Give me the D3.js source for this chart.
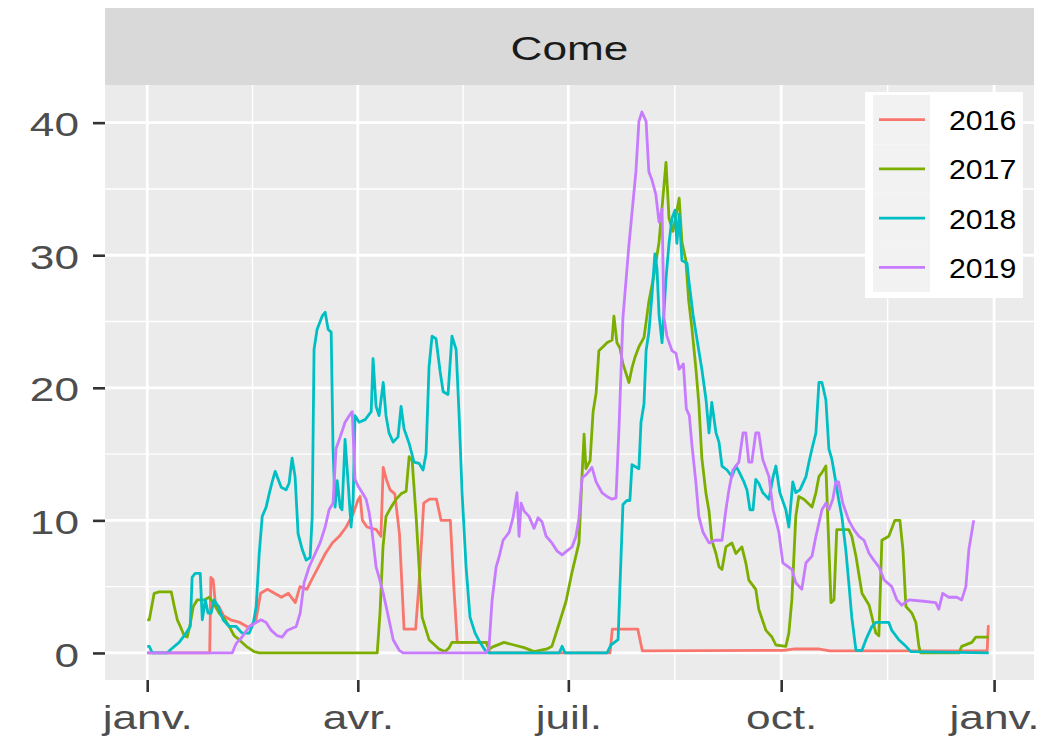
<!DOCTYPE html>
<html><head><meta charset="utf-8">
<script src="https://cdn.jsdelivr.net/npm/d3@7"></script>
<style>
body{margin:0;background:#fff;}
svg{display:block;}
text{font-family:"Liberation Sans",Arial,Helvetica,sans-serif;}
</style>
</head><body>
<svg id="chart" width="1064" height="741"></svg>
<script>
// ---------------- data ----------------
const facetTitle = "Come";
const years = ["2016", "2017", "2018", "2019"];
const colors = ["#F8766D", "#7CAE00", "#00BFC4", "#C77CFF"];
const yTicks = [0, 10, 20, 30, 40];
const yMinorTicks = [5, 15, 25, 35];
const xTickDates = ["2016-01-01", "2016-04-01", "2016-07-01", "2016-10-01", "2017-01-01"];
const xTickLabels = ["janv.", "avr.", "juil.", "oct.", "janv."];
const baseYear = 2016;

// [day of year, value]
const s2016 = [[0,0],[27,0],[27.5,5.7],[28.5,5.5],[29.5,3.6],[31,3.5],[33,2.8],[36,2.5],[40,2.3],[44,1.9],[47,2.5],[49,4.5],[52,4.8],[55,4.5],[58,4.2],[61,4.5],[64,3.8],[66,5],[69,4.8],[71,5.5],[74,6.5],[77,7.5],[80,8.3],[83,8.8],[86,9.5],[89,10.5],[91,11.5],[92,11.8],[93,10],[95,9.5],[99,9.3],[101,8.8],[102,14],[103.5,13],[105,12.3],[107,12],[109,9],[111,1.8],[116,1.8],[117.5,5.3],[119.5,11.3],[122,11.6],[125,11.6],[127,10],[131,10],[132.5,5],[134,0.8],[147,0.8],[148,0],[200,0],[201,1.8],[212,1.8],[214,0.15],[275,0.2],[280,0.3],[290,0.3],[295,0.15],[363,0.15],[363.5,2],[364,2]];

const s2017 = [[0,2.5],[0.9,2.5],[3,4.5],[5.2,4.6],[10.4,4.6],[11.7,3.5],[13,2.5],[14.3,2],[16,1.3],[17.3,1.2],[18.6,2.2],[19.9,3.5],[21.6,4],[24.6,4],[26.8,4.2],[28.5,3.8],[31.1,3],[33.3,2.6],[35.4,2],[37.6,1.3],[39.7,1],[42.8,0.5],[46.2,0.1],[48.4,0],[99.4,0],[100.6,3],[101.9,8],[103.2,10.3],[105.4,11],[107.6,11.6],[109.7,12],[111.9,12.2],[113.2,14.8],[114.5,14.5],[116.2,10.3],[117.5,6.5],[118.8,2.7],[121.8,1],[126.1,0.3],[128.7,0.1],[130.5,0.4],[131.7,0.8],[139.1,0.8],[146.4,0.8],[147.7,0.3],[149.9,0.5],[154.2,0.8],[158.5,0.6],[162.9,0.4],[167.2,0.1],[172.8,0.3],[174.9,0.5],[178,2.2],[181,3.9],[183.6,6.1],[186.6,8.3],[187.9,13.3],[188.8,16.5],[189.6,13.9],[191.4,14.5],[192.7,18.2],[194,19.6],[195.2,22.8],[197,23.1],[198.7,23.4],[200.9,23.6],[201.7,25.4],[203,23.4],[204.3,23],[205.6,21.8],[208.2,20.4],[209.5,21.5],[210.8,22.3],[212.5,23.1],[214.7,23.8],[216.8,26.5],[219,28.5],[221.2,31],[222.5,33.6],[224.2,37],[225.5,32.8],[227.2,31.8],[228.5,33],[229.9,34.3],[231.1,31],[232.8,29.6],[234,26.6],[235.4,24.5],[237.1,21.5],[238.4,18.8],[239.7,14.7],[241.5,12],[242.8,10.7],[244,8.5],[245.8,7.5],[247.1,6.5],[248.4,6.3],[250.1,8],[252.7,8.3],[254.4,7.5],[257,8],[258.7,6.8],[260,5.5],[263,4.8],[264.3,3.3],[267.4,1.7],[270,1.2],[271.7,0.6],[276,0.5],[277.3,1.5],[278.6,4],[280.3,10.3],[281.6,11.8],[283.8,11.6],[287.3,11],[289,12.1],[290.3,13.3],[291.6,13.6],[293.3,14.1],[294.2,9.8],[295.5,3.8],[296.8,4],[298,9.3],[300.2,9.3],[303.2,9.3],[304.5,8.8],[306.3,7.3],[308.9,4.5],[312,3.6],[314.9,1.5],[316.2,1.3],[317.5,8.5],[320.5,8.8],[323.1,10],[325.3,10],[326.6,7.8],[327.9,3.5],[330.5,3],[332.2,2.3],[333.5,0.5],[334.3,0],[350.8,0],[352,0.5],[356.4,0.8],[358.1,1.2],[363.7,1.2]];

const s2018 = [[0,0.5],[0.9,0.5],[2.2,0],[8.6,0],[10.4,0.3],[13.8,0.8],[16.8,1.5],[18.6,2],[19.4,5.7],[20.7,6],[22.9,6],[23.8,2.5],[25.1,4],[26.3,3],[27.6,3],[28.9,4],[30.7,3.5],[32.8,2.5],[35.4,2],[38.4,2],[41,1.5],[44.1,1.5],[45.8,2.2],[47.1,3.5],[48.4,7.5],[49.7,10.3],[51.4,11],[52.7,12],[54,12.9],[55.3,13.7],[56.6,13.1],[57.9,12.5],[60,12.3],[61.3,12.8],[62.6,14.7],[63.9,13.3],[65.2,9],[67,7.8],[68.7,7],[70.4,7.2],[71.3,10.3],[72.1,22.9],[73.4,24.4],[75.6,25.4],[76.9,25.7],[78.2,24.4],[79.5,24.2],[80.3,15.4],[81.2,11],[82.1,13],[83.4,11],[84.2,10.8],[85.5,16.1],[86.8,12.9],[88.1,9.5],[89,11.6],[89.8,17.9],[91.6,17.4],[94.2,17.6],[95.5,17.9],[96.8,18.2],[97.6,22.2],[98.9,18.6],[100.2,17.9],[102,20.4],[103.2,17.9],[104.5,16.6],[106.3,15.9],[108.4,16.3],[109.7,18.6],[111,16.9],[113.2,15.8],[115.3,14.4],[117.5,14.3],[119.2,13.8],[120.5,15],[121.8,21.6],[123.1,23.9],[124.8,23.7],[126.6,21.2],[127.9,19.7],[130,19.5],[131.7,23.9],[133.5,22.9],[134.8,17.9],[136.1,12],[137.8,6.5],[139.5,2.7],[141.7,1.5],[143.8,0.8],[146.4,0.1],[147.7,0],[178,0],[179.3,0.5],[180.6,0],[198.7,0],[200.4,0.6],[203.5,1],[204.3,5],[205.6,11.2],[207.3,11.5],[208.6,11.5],[209.5,14.2],[212.5,13.9],[213.4,17.4],[214.7,18.8],[215.6,22.8],[216.8,24.2],[218.1,26.9],[219.4,30.1],[220.3,29],[221.2,25.5],[222.5,23.4],[224.2,28.2],[225.5,30.9],[226.8,32.8],[228.1,33.4],[228.9,30.9],[229.9,33.1],[231.1,29.6],[233.3,29.4],[234,28.2],[235.9,25.5],[237.1,24.2],[238.4,22.8],[239.7,21.4],[241.5,19.1],[242.8,16.6],[244,18.9],[245.8,16.6],[247.1,15.9],[248.4,14.1],[250.6,13.8],[252.7,13.3],[254.4,14.1],[255.7,13.7],[257.9,12.9],[259.2,12.3],[260.5,10.8],[261.8,10.8],[263,13.1],[264.3,12.8],[266,12.1],[268.7,11.6],[270.5,13.3],[271.7,14.1],[273.4,12.1],[276,10.8],[277.3,9.5],[279,12.9],[280.3,12.1],[282.1,12.3],[284.7,13.3],[286,14.4],[287.3,15.4],[289,16.6],[290.3,20.4],[291.6,20.4],[293.3,19.1],[294.6,15.4],[295.9,14.6],[297.6,12.9],[298.8,11.6],[300.2,10.3],[301.9,7.8],[303.2,5.3],[304.5,2.7],[306.3,0.2],[308.9,0.2],[310.6,1],[313.2,2],[314.9,2.3],[320.5,2.3],[321.8,1.7],[324.8,1],[327.9,0.5],[330,0.1],[363.7,0]];

const s2019 = [[0,0],[36.7,0],[38.4,0.7],[41,1.2],[44.1,2],[47.1,2.3],[49.2,2.5],[51.4,2.3],[53.6,1.7],[56.2,1.3],[58.3,1.2],[60.5,1.7],[64.4,2],[66.1,3],[67.8,5.3],[70,6.5],[72.6,7.5],[74.7,8.3],[76.9,9.5],[78.6,10.8],[80.3,11.3],[81.6,15.4],[83.4,16.3],[85.5,17.4],[87.3,17.9],[88.6,18.2],[89.8,13.1],[91.1,12.6],[92.9,12.1],[94.6,11.6],[95.9,10.6],[97.2,9.1],[98.9,6.5],[100.2,5.7],[102,4.5],[104.5,2.5],[106.3,1],[108.9,0.2],[110.6,0],[146.4,0],[147.7,0.4],[149,3.9],[150.8,6.5],[152,7.2],[153.8,8.5],[156.4,9.1],[158.1,10.2],[159.8,12.1],[160.7,8.8],[161.6,11.3],[162.9,10.7],[165,10.3],[167.2,9.4],[168.9,10.2],[170.6,9.9],[172.4,8.8],[174.9,8.3],[177.1,7.7],[179.3,7.4],[181.4,7.7],[183.6,8],[185.3,8.8],[186.6,10.2],[187.9,13.2],[190,13.5],[192.2,14],[194,12.9],[196.5,12.1],[198.7,11.8],[200.9,11.6],[202.6,11.7],[203.9,17],[205.6,25.3],[208.2,30.8],[211.2,36.3],[212.5,40.1],[213.8,40.8],[215.6,40.1],[216.8,36.3],[218.1,35.7],[219.8,34.6],[221.2,32.5],[222.5,33.5],[223.3,25.3],[224.6,23.9],[226.8,22.8],[228.5,22.6],[229.9,21.4],[231.7,21.8],[233,18.4],[234.3,17.9],[235.4,15.7],[237.1,12.9],[238.4,10.3],[240.2,9.1],[242.8,8.3],[245.4,8.5],[248.4,8.5],[250.1,10.8],[251.4,12.3],[253.1,13.8],[255.7,14.4],[257.5,16.6],[258.7,16.6],[260,14.4],[261.3,14.4],[263,16.6],[264.3,16.6],[266,14.6],[268.7,13.3],[270.5,10.8],[273,9.1],[274.7,6.8],[278.6,6.3],[280.3,5.3],[282.9,4.8],[284.7,6.8],[287.3,7.3],[289,8.8],[291.6,10.8],[293.3,11.3],[294.6,10.8],[296.3,11.6],[297.6,12.9],[298.8,12.9],[300.6,11.3],[303.2,10],[305.4,9.3],[307.6,8.8],[309.8,8.5],[312,7.5],[314,7],[316.2,6.5],[318.5,5.5],[321.8,5],[324,4],[326.1,3.6],[329.2,4],[335.6,3.9],[340.8,3.8],[342.1,3.3],[343.8,4.5],[346.4,4.2],[349.9,4.2],[352,4],[353.8,5],[355.1,7.8],[357.2,10]];

const seriesData = [s2016, s2017, s2018, s2019];

// ---------------- layout ----------------
const svg = d3.select("#chart");
const P = {left: 105, right: 1034, top: 85, bottom: 680};
const strip = {top: 8, bottom: 85};
const SX = 1.3;          // horizontal stretch of the reference's text
const dayMs = 86400000;
const t0 = new Date(baseYear, 0, 1).getTime();
const toDate = d => new Date(t0 + d * dayMs);

const dMin = new Date(baseYear, 0, 1), dMax = new Date(baseYear, 11, 31);
const span = dMax - dMin;
const x = d3.scaleTime()
  .domain([new Date(+dMin - span * 0.05), new Date(+dMax + span * 0.05)])
  .range([P.left, P.right]);
const vMax = d3.max(seriesData.flat(), p => p[1]);
const vMin = 0;
const vr = vMax - vMin;
const y = d3.scaleLinear()
  .domain([vMin - vr * 0.05, vMax + vr * 0.05])
  .range([P.bottom, P.top]);

// strip
svg.append("rect").attr("x", P.left).attr("y", strip.top)
  .attr("width", P.right - P.left).attr("height", strip.bottom - strip.top)
  .attr("fill", "#d9d9d9");
svg.append("text")
  .attr("transform", `translate(${(P.left + P.right) / 2},${(strip.top + strip.bottom) / 2 + 1}) scale(${SX},1)`)
  .attr("text-anchor", "middle").attr("dominant-baseline", "central")
  .attr("font-size", 34).attr("fill", "#1a1a1a").text(facetTitle);

// panel
svg.append("rect").attr("x", P.left).attr("y", P.top)
  .attr("width", P.right - P.left).attr("height", P.bottom - P.top)
  .attr("fill", "#ebebeb");

const tickDates = xTickDates.map(s => { const [a,b,c] = s.split("-").map(Number); return new Date(a, b - 1, c); });
const minorDates = d3.pairs(tickDates).map(([a, b]) => new Date((+a + +b) / 2));

const grid = svg.append("g");
yMinorTicks.forEach(v => grid.append("line")
  .attr("x1", P.left).attr("x2", P.right).attr("y1", y(v)).attr("y2", y(v))
  .attr("stroke", "#fff").attr("stroke-width", 1.4));
minorDates.forEach(d => grid.append("line")
  .attr("x1", x(d)).attr("x2", x(d)).attr("y1", P.top).attr("y2", P.bottom)
  .attr("stroke", "#fff").attr("stroke-width", 1.4));
yTicks.forEach(v => grid.append("line")
  .attr("x1", P.left).attr("x2", P.right).attr("y1", y(v)).attr("y2", y(v))
  .attr("stroke", "#fff").attr("stroke-width", 2.8));
tickDates.forEach(d => grid.append("line")
  .attr("x1", x(d)).attr("x2", x(d)).attr("y1", P.top).attr("y2", P.bottom)
  .attr("stroke", "#fff").attr("stroke-width", 2.8));

// lines
const line = d3.line().x(p => x(toDate(p[0]))).y(p => y(p[1]));
seriesData.forEach((s, i) => {
  svg.append("path").datum(s).attr("d", line)
    .attr("fill", "none").attr("stroke", colors[i]).attr("stroke-width", 2.8)
    .attr("stroke-linejoin", "round");
});

// axes
const TS = 12;
const yAxis = svg.append("g").attr("transform", `translate(${P.left},0)`)
  .call(d3.axisLeft(y).tickValues(yTicks).tickSize(TS));
const xAxis = svg.append("g").attr("transform", `translate(0,${P.bottom})`)
  .call(d3.axisBottom(x).tickValues(tickDates).tickFormat((d, i) => xTickLabels[i]).tickSize(TS));
[yAxis, xAxis].forEach(g => {
  g.select(".domain").remove();
  g.selectAll(".tick line").attr("stroke", "#333").attr("stroke-width", 2.6);
  g.selectAll(".tick text").attr("fill", "#4d4d4d").attr("font-size", 34)
    .attr("font-family", '"Liberation Sans",Arial,sans-serif');
});
yAxis.selectAll(".tick text")
  .attr("x", 0).attr("dy", null).attr("dominant-baseline", "central")
  .attr("transform", `translate(${-(TS + 14)},1) scale(${SX},1)`);
xAxis.selectAll(".tick text")
  .attr("y", 0).attr("dy", null)
  .attr("transform", `translate(0,${49}) scale(${SX},1)`);

// legend
const L = {x: 865, y: 92, w: 158, h: 206, keyX: 873, keyY: 95, keyW: 57, keyH: 49.25};
const lg = svg.append("g");
lg.append("rect").attr("x", L.x).attr("y", L.y).attr("width", L.w).attr("height", L.h).attr("fill", "#fff");
years.forEach((yr, i) => {
  const ky = L.keyY + i * L.keyH;
  lg.append("rect").attr("x", L.keyX).attr("y", ky).attr("width", L.keyW).attr("height", L.keyH).attr("fill", "#f2f2f2");
  lg.append("line").attr("x1", L.keyX + 6).attr("x2", L.keyX + L.keyW - 5)
    .attr("y1", ky + L.keyH / 2).attr("y2", ky + L.keyH / 2)
    .attr("stroke", colors[i]).attr("stroke-width", 2.6);
  lg.append("text")
    .attr("transform", `translate(949,${ky + L.keyH / 2 + 1}) scale(1.12,1)`)
    .attr("dominant-baseline", "central")
    .attr("font-size", 27).attr("fill", "#000").text(yr);
});
</script>
</body></html>
